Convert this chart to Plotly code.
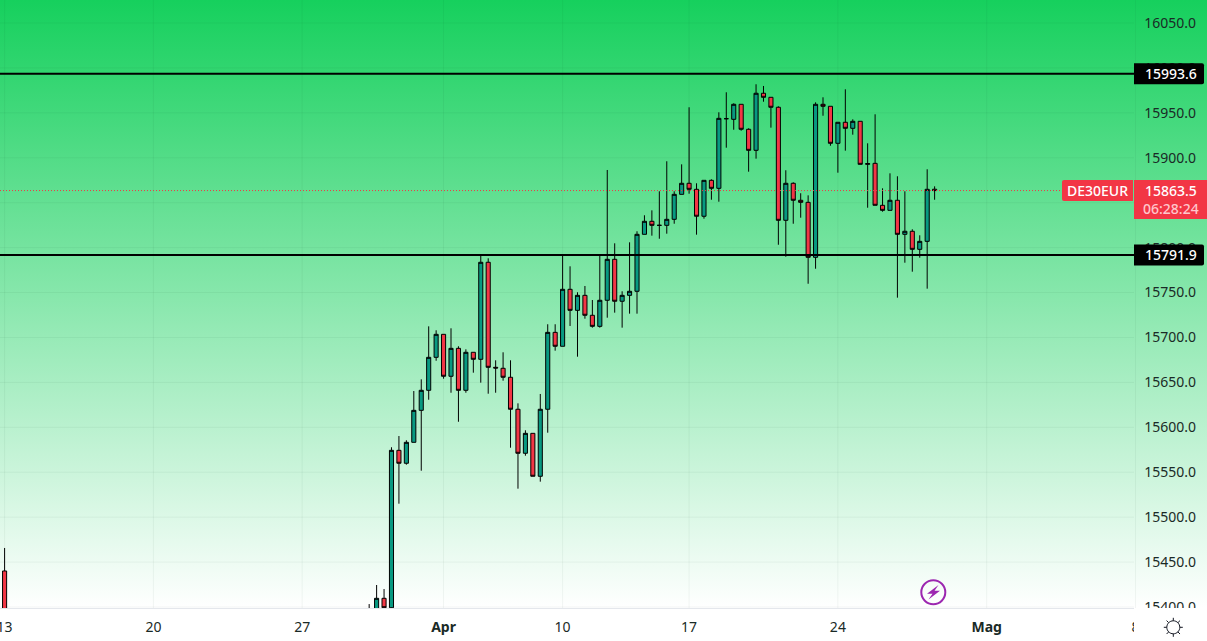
import base64
import math
import plotly.graph_objects as go

# DE30EUR four-hour bars (bar number on the trading calendar)
bars = [0] + list(range(49, 126))
opens = [15440.1, 15378, 15395, 15409.7, 15399.2, 15574.4, 15560, 15583.3, 15618.9, 15641.2,
         15677.9, 15703.5, 15656.8, 15687.9, 15641.2, 15683.5, 15675.7, 15783.7, 15666.8, 15665.7,
         15655.7, 15620.1, 15571.1, 15593.3, 15545.5, 15620.1, 15705.7, 15690.2, 15753.6, 15730.2,
         15746.9, 15724.7, 15712.4, 15741.4, 15787, 15740.3, 15746.9, 15751.4, 15814.8, 15829.3,
         15824.8, 15824.8, 15831.5, 15859.3, 15871.6, 15864.9, 15834.9, 15874.9, 15866, 15943.5,
         15942.8, 15959.5, 15931.7, 15908.3, 15971.8, 15967.3, 15956.2, 15830.4, 15871.6, 15852.7,
         15850.4, 15789.2, 15959.5, 15957.3, 15916.1, 15939.5, 15932.8, 15940.6, 15892.7, 15893.8,
         15847.1, 15841.5, 15852.7, 15814.8, 15818.2, 15798.1, 15807, 15865]
highs = [15465.7, 15403.3, 15424.5, 15420, 15577.8, 15590.3, 15585.6, 15640.4, 15653.4, 15712.4,
         15708, 15703.5, 15710.2, 15690.2, 15686.8, 15683.5, 15792.9, 15788.1, 15674.6, 15683.5,
         15674.6, 15626.7, 15596.7, 15593.3, 15637.1, 15714.7, 15714.7, 15791.8, 15779.2, 15750.3,
         15757.3, 15741.7, 15791, 15886.4, 15804.8, 15751.4, 15805.9, 15818.2, 15836, 15841.5,
         15862.7, 15896.1, 15862.7, 15892.7, 15956.2, 15871.6, 15874.9, 15876, 15950.6, 15972.9,
         15960.6, 15959.5, 15932.8, 15981.8, 15979.9, 15967.3, 15957.3, 15886.1, 15872.7, 15860.5,
         15858.2, 15961.7, 15967.3, 15957.3, 15939.5, 15976.2, 15942.8, 15940.6, 15916.1, 15948.4,
         15866, 15882.7, 15879.4, 15862.7, 15820.4, 15813.7, 15887.2, 15868.2]
lows = [15370, 15370, 15390, 15392, 15392, 15515, 15558.4, 15583.3, 15551.7, 15630.7,
        15674.1, 15654.1, 15638.5, 15606.2, 15638.5, 15660.8, 15649.7, 15637.4, 15638.5, 15651.9,
        15577.3, 15531.7, 15568.4, 15545.5, 15539.5, 15594, 15685.3, 15690.2, 15712.8, 15678.6,
        15720.9, 15710.9, 15710.9, 15722, 15727.6, 15710.9, 15726.5, 15726.5, 15814.8, 15813.3,
        15809.9, 15815.5, 15826.6, 15859.3, 15860, 15814.4, 15832.2, 15853.3, 15851.1, 15911.2,
        15931.2, 15930.1, 15884.5, 15899, 15962.4, 15933.5, 15803.2, 15789.9, 15826.6, 15833.3,
        15759.8, 15776.5, 15946.8, 15913.4, 15883.4, 15907.9, 15925.7, 15892.7, 15844.4, 15847.1,
        15840, 15841.5, 15744.3, 15783.2, 15773.2, 15788.8, 15754.3, 15853.3]
closes = [15380, 15392, 15409.7, 15399.2, 15574.4, 15560, 15583.3, 15618.9, 15641.2, 15677.9,
          15703.5, 15656.8, 15687.9, 15641.2, 15683.5, 15675.7, 15783.7, 15666.8, 15666, 15655.7,
          15620.1, 15571.1, 15593.3, 15545.5, 15620.1, 15705.7, 15690.2, 15753.6, 15730.2, 15746.9,
          15724.7, 15712.4, 15741.4, 15787, 15740.3, 15746.9, 15751.4, 15814.8, 15829.3, 15824.8,
          15824.8, 15831.5, 15859.3, 15871.6, 15864.9, 15834.9, 15874.9, 15866, 15943.9, 15943.5,
          15959.5, 15931.7, 15908.3, 15971.8, 15967.3, 15956.2, 15830.4, 15871.6, 15852.7, 15850.4,
          15789.2, 15959.5, 15957.3, 15916.1, 15939.5, 15932.8, 15940.6, 15892.7, 15893.5, 15847.1,
          15841.5, 15852.7, 15814.8, 15818.2, 15798.1, 15807, 15864.9, 15863.5]

# Axis labels and levels
date_bars = [0, 20, 40, 59, 75, 92, 112, 132, 152]
date_labels = ["13", "20", "27", "<b>Apr</b>", "10", "17", "24", "<b>Mag</b>", "8"]
price_ticks = list(range(15400, 16051, 50))
resistance = 15993.6
support = 15791.9
last_price = 15863.5
symbol = "DE30EUR"
countdown = "06:28:24"

W, H = 1207, 641
PLOT_H = 608
AXIS_X = 1134
x_range = [-0.618, 161.61]
y_range = [15398.9, 16075.6]
x_axis_end = x_range[0] + (x_range[1] - x_range[0]) * AXIS_X / W

UP, DOWN, EDGE = "#089981", "#f23645", "#000000"
GRID = "rgba(25,60,45,0.05)"
TEXT = "#1a2a26"
FONT = "Noto Sans"

# Green-to-white wash for the price pane
WASH_SVG = (
    '<svg xmlns="http://www.w3.org/2000/svg" width="10" height="100" preserveAspectRatio="none">'
    '<defs><linearGradient id="g" x1="0" y1="0" x2="0" y2="1">'
    '<stop offset="0" stop-color="#16d05d"/><stop offset="1" stop-color="#ffffff"/>'
    '</linearGradient></defs><rect width="10" height="100" fill="url(#g)"/></svg>'
)
wash_uri = "data:image/svg+xml;base64," + base64.b64encode(WASH_SVG.encode()).decode()


def pixel_path(d, **kw):
    """Shape whose path is in pixels from the top-left corner of the page."""
    return dict(type="path", path=d, xref="paper", yref="paper", xsizemode="pixel",
                ysizemode="pixel", xanchor=0, yanchor=1, layer="above", **kw)


def circle_path(cx, cy, r):
    k = 0.5523 * r
    return (f"M{cx - r},{cy} C{cx - r},{cy + k} {cx - k},{cy + r} {cx},{cy + r} "
            f"C{cx + k},{cy + r} {cx + r},{cy + k} {cx + r},{cy} "
            f"C{cx + r},{cy - k} {cx + k},{cy - r} {cx},{cy - r} "
            f"C{cx - k},{cy - r} {cx - r},{cy - k} {cx - r},{cy} Z")


def tag(price, x0, x1, top, bottom, color, round_left=False, round_right=False):
    """Filled price tag anchored on a level; top/bottom are pixel offsets from it."""
    r = 2
    rl, rr = (r if round_left else 0), (r if round_right else 0)
    d = (f"M{x0 + rl},{top} L{x1 - rr},{top} Q{x1},{top} {x1},{top - rr} "
         f"L{x1},{-bottom + rr} Q{x1},{-bottom} {x1 - rr},{-bottom} "
         f"L{x0 + rl},{-bottom} Q{x0},{-bottom} {x0},{-bottom + rl} "
         f"L{x0},{top - rl} Q{x0},{top} {x0 + rl},{top} Z")
    return dict(type="path", path=d, xref="paper", yref="y", xsizemode="pixel",
                ysizemode="pixel", xanchor=0, yanchor=price, layer="above",
                fillcolor=color, line=dict(width=0))


def label(text, px, price, color="#ffffff", size=14, yshift=0):
    return dict(text=text, xref="paper", yref="y", x=px / W, y=price, xanchor="center",
                yanchor="middle", showarrow=False, yshift=yshift,
                font=dict(family=FONT, size=size, color=color, weight=500))


fig = go.Figure()

fig.add_trace(go.Candlestick(
    x=bars, open=opens, high=highs, low=lows, close=closes,
    increasing=dict(line=dict(color=EDGE, width=1), fillcolor=UP),
    decreasing=dict(line=dict(color=EDGE, width=1), fillcolor=DOWN),
    whiskerwidth=0, hoverinfo="skip", showlegend=False))

# Grid lines sit on top of the wash and under the bars
shapes = []
for p in price_ticks:
    shapes.append(dict(type="line", xref="x", yref="y", x0=x_range[0], x1=x_axis_end, y0=p, y1=p,
                       line=dict(color=GRID, width=1), layer="below"))
for b in date_bars:
    shapes.append(dict(type="line", xref="x", yref="y", x0=b, x1=b, y0=y_range[0], y1=y_range[1],
                       line=dict(color=GRID, width=1), layer="below"))

shapes += [
    dict(type="line", xref="paper", x0=0, x1=AXIS_X / W, yref="y", y0=resistance, y1=resistance,
         line=dict(color="#000000", width=2), layer="above"),
    dict(type="line", xref="paper", x0=0, x1=AXIS_X / W, yref="y", y0=support, y1=support,
         line=dict(color="#000000", width=2), layer="above"),
    dict(type="line", xref="paper", x0=0, x1=1062 / W, yref="y", y0=last_price, y1=last_price,
         line=dict(color=DOWN, width=1, dash="1px,2px"), layer="above"),
    tag(resistance, AXIS_X, 1204, 10.5, 10.5, "#000000", round_right=True),
    tag(support, AXIS_X, 1204, 10.5, 10.5, "#000000", round_right=True),
    tag(last_price, 1062, 1133, 10.5, 10.5, DOWN, round_left=True),
    tag(last_price, AXIS_X, W, 10.5, 28.5, DOWN),
    # blank strip under the price scale
    pixel_path(f"M{AXIS_X},{-PLOT_H} L{W},{-PLOT_H} L{W},{-H} L{AXIS_X},{-H} Z",
               fillcolor="#ffffff", line=dict(width=0)),
]

# Lightning badge
shapes.append(pixel_path(circle_path(933.3, -592.3, 12),
                         fillcolor="rgba(0,0,0,0)", line=dict(color="#9c27b0", width=2)))
shapes.append(pixel_path(
    "M938.5,-585 L927,-593.8 L932.5,-593.8 L928.5,-599.5 L940,-590.8 L934.5,-590.8 Z",
    fillcolor="#9c27b0", line=dict(width=0)))

# Sun icon in the scale corner
sx, sy, sr = 1173.3, -627.3, 6.5
sun = circle_path(sx, sy, sr)
for k in range(8):
    a = k * math.pi / 4
    sun += (f" M{sx + sr * math.cos(a):.2f},{sy + sr * math.sin(a):.2f}"
            f" L{sx + (sr + 3) * math.cos(a):.2f},{sy + (sr + 3) * math.sin(a):.2f}")
shapes.append(pixel_path(sun, fillcolor="rgba(0,0,0,0)", line=dict(color="#131722", width=1)))

annotations = [
    label(f"{resistance:.1f}", 1170.5, resistance),
    label(f"{support:.1f}", 1170.5, support),
    label(symbol, 1097.5, last_price),
    label(f"{last_price:.1f}", 1170.5, last_price),
    label(countdown, 1170.5, last_price, color="#ffc6cc", yshift=-18),
]

fig.update_layout(
    width=W, height=H, margin=dict(l=0, r=0, t=0, b=H - PLOT_H, autoexpand=False),
    paper_bgcolor="#ffffff", plot_bgcolor="rgba(0,0,0,0)",
    showlegend=False, shapes=shapes, annotations=annotations,
    boxmode="overlay", boxgap=0.45, boxgroupgap=0,
    images=[dict(source=wash_uri, xref="paper", yref="paper", x=0, y=1, sizex=1, sizey=1,
                 xanchor="left", yanchor="top", sizing="stretch", layer="below")],
    font=dict(family=FONT, size=14, color=TEXT),
    xaxis=dict(range=x_range, tickmode="array", tickvals=date_bars, ticktext=date_labels,
               showgrid=False, zeroline=False, showline=True, linecolor="#e4e7ec", linewidth=1,
               ticks="outside", ticklen=6, tickcolor="rgba(0,0,0,0)",
               ticklabeloverflow="allow",
               rangeslider=dict(visible=False),
               tickfont=dict(family=FONT, size=14, color=TEXT)),
    yaxis=dict(range=y_range, side="right", tickmode="array", tickvals=price_ticks,
               tickformat=".1f", ticklabelposition="inside", ticklabeloverflow="allow",
               ticklabelstandoff=8, showgrid=False, zeroline=False, showline=False,
               tickfont=dict(family=FONT, size=14, color=TEXT)),
)

fig.write_html("out.html", config={"displayModeBar": False})
